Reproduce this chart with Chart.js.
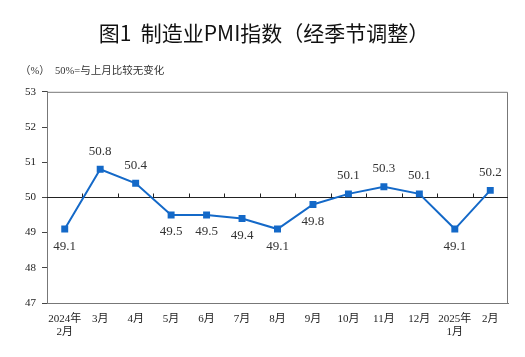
<!DOCTYPE html>
<html>
<head>
<meta charset="utf-8">
<script src="https://cdn.jsdelivr.net/npm/chart.js@4"></script>
<style>
html,body{margin:0;padding:0;background:#fff;}
#wrap{width:525px;height:357px;}
</style>
</head>
<body>
<div id="wrap"><canvas id="c" width="525" height="357"></canvas></div>
<script>
const categories = [['2024年','2月'],'3月','4月','5月','6月','7月','8月','9月','10月','11月','12月',['2025年','1月'],'2月'];
const pmiValues = [49.1, 50.8, 50.4, 49.5, 49.5, 49.4, 49.1, 49.8, 50.1, 50.3, 50.1, 49.1, 50.2];
const yTicks = [47, 48, 49, 50, 51, 52, 53];
const referenceValue = 50;
const titleText = '图1  制造业PMI指数（经季节调整）';
const subtitleText = '（%）  50%=与上月比较无变化';

const SERIF = "'Liberation Serif', 'Noto Sans CJK SC', serif";

const refPlugin = {
  id: 'refPlugin',
  beforeDatasetsDraw(chart) {
    const {ctx, chartArea: a, scales: {x, y}} = chart;
    ctx.save();
    ctx.strokeStyle = '#777';
    ctx.lineWidth = 1;
    ctx.beginPath();
    ctx.moveTo(a.left, a.top + 0.5);
    ctx.lineTo(a.right - 0.5, a.top + 0.5);
    ctx.lineTo(a.right - 0.5, a.bottom);
    ctx.stroke();
    const y0 = Math.round(y.getPixelForValue(referenceValue)) + 0.5;
    ctx.strokeStyle = '#222';
    ctx.beginPath();
    ctx.moveTo(a.left, y0);
    ctx.lineTo(a.right, y0);
    for (let i = 0; i < categories.length - 1; i++) {
      const xm = Math.round((x.getPixelForValue(i) + x.getPixelForValue(i + 1)) / 2) + 0.5;
      ctx.moveTo(xm, y0);
      ctx.lineTo(xm, y0 - 4);
    }
    ctx.stroke();
    ctx.restore();
  },
  afterDatasetsDraw(chart) {
    const {ctx} = chart;
    const meta = chart.getDatasetMeta(0);
    ctx.save();
    ctx.font = "13px " + SERIF;
    ctx.fillStyle = '#333';
    ctx.textAlign = 'center';
    ctx.textBaseline = 'middle';
    meta.data.forEach((pt, i) => {
      const v = pmiValues[i];
      const dy = v >= referenceValue ? -18 : 17;
      ctx.fillText(v.toFixed(1), pt.x, pt.y + dy);
    });
    ctx.restore();
  }
};

new Chart(document.getElementById('c'), {
  type: 'line',
  data: {
    labels: categories,
    datasets: [{
      data: pmiValues,
      borderColor: '#1469C8',
      backgroundColor: '#1469C8',
      borderWidth: 2,
      pointStyle: 'rect',
      pointRadius: 3.5,
      pointHoverRadius: 3.5,
      tension: 0,
      fill: false
    }]
  },
  options: {
    responsive: false,
    animation: false,
    events: [],
    layout: {padding: {left: 20, right: 17, top: 0, bottom: 0}},
    plugins: {
      legend: {display: false},
      tooltip: {enabled: false},
      title: {
        display: true,
        text: titleText,
        color: '#111',
        font: {family: "'Noto Sans CJK SC', sans-serif", size: 21, weight: 'normal', lineHeight: 1.2},
        padding: {top: 20, bottom: 0}
      },
      subtitle: {
        display: true,
        text: subtitleText,
        align: 'start',
        color: '#333',
        font: {family: SERIF, size: 10.5, lineHeight: 1.2},
        padding: {top: 20, bottom: 14}
      }
    },
    scales: {
      x: {
        type: 'category',
        offset: true,
        grid: {display: false, drawTicks: false},
        border: {display: true, color: '#777'},
        ticks: {
          color: '#222',
          font: {family: SERIF, size: 11, lineHeight: 1.15},
          padding: 10,
          maxRotation: 0,
          autoSkip: false
        },
        afterFit(s) { s.height = 54; }
      },
      y: {
        min: yTicks[0],
        max: yTicks[yTicks.length - 1],
        afterBuildTicks(s) { s.ticks = yTicks.map(v => ({value: v})); },
        grid: {drawOnChartArea: false, color: '#444', tickColor: '#444', tickLength: 5},
        border: {display: true, color: '#777'},
        ticks: {
          color: '#222',
          font: {family: SERIF, size: 11},
          padding: 6
        },
        afterFit(s) { s.width = 27; }
      }
    }
  },
  plugins: [refPlugin]
});
</script>
</body>
</html>
